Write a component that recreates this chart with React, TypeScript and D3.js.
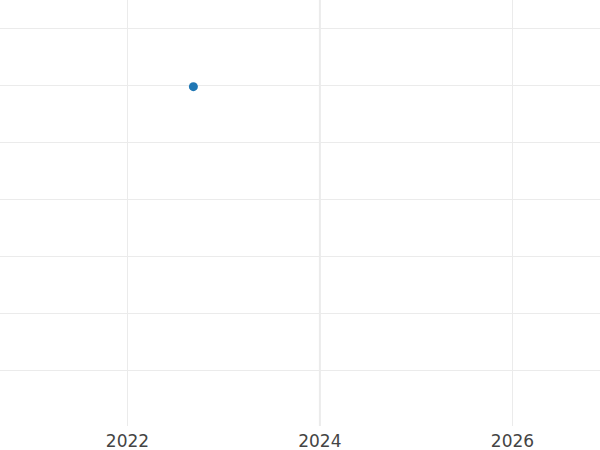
import React, { useEffect } from "react";
import * as d3 from "d3";

const xTickYears = [2022, 2024, 2026];
const yTickValues = [0, 1, 2, 3, 4, 5, 6];
const pointDates = ["2022-09-08"];
const pointValues = [4.98];
const emphasizedYear = 2024;

const W = 600;
const H = 450;
const plotBottom = 426;

export default function App() {
  useEffect(() => {
    document.body.style.margin = "0";
  }, []);

  const x = d3
    .scaleUtc()
    .domain([new Date(Date.UTC(2022, 0, 1)), new Date(Date.UTC(2026, 0, 1))])
    .range([127.5, 512.5]);
  const y = d3.scaleLinear().domain([0, 6]).range([370.5, 28.5]);

  return (
    <svg width={W} height={H} style={{ position: "absolute", left: 0, top: 0, background: "#fff" }}>
      <g>
        {yTickValues.map((v) => (
          <line key={"h" + v} x1={0} x2={W} y1={y(v)} y2={y(v)} stroke="#ebebeb" strokeWidth={1} />
        ))}
        {xTickYears.map((yr) => {
          const px = x(new Date(Date.UTC(yr, 0, 1)));
          return (
            <line
              key={"v" + yr}
              x1={px}
              x2={px}
              y1={0}
              y2={plotBottom}
              stroke="#ebebeb"
              strokeWidth={yr === emphasizedYear ? 2 : 1}
            />
          );
        })}
      </g>
      <g>
        {pointDates.map((d, i) => (
          <circle
            key={d}
            cx={x(new Date(d + "T00:00:00Z"))}
            cy={y(pointValues[i])}
            r={4.5}
            fill="#1f77b4"
          />
        ))}
      </g>
      <g fontFamily="'DejaVu Sans', sans-serif" fontSize={17} fill="#444">
        {xTickYears.map((yr) => (
          <text key={"t" + yr} x={x(new Date(Date.UTC(yr, 0, 1)))} y={447} textAnchor="middle">
            {yr}
          </text>
        ))}
      </g>
    </svg>
  );
}
